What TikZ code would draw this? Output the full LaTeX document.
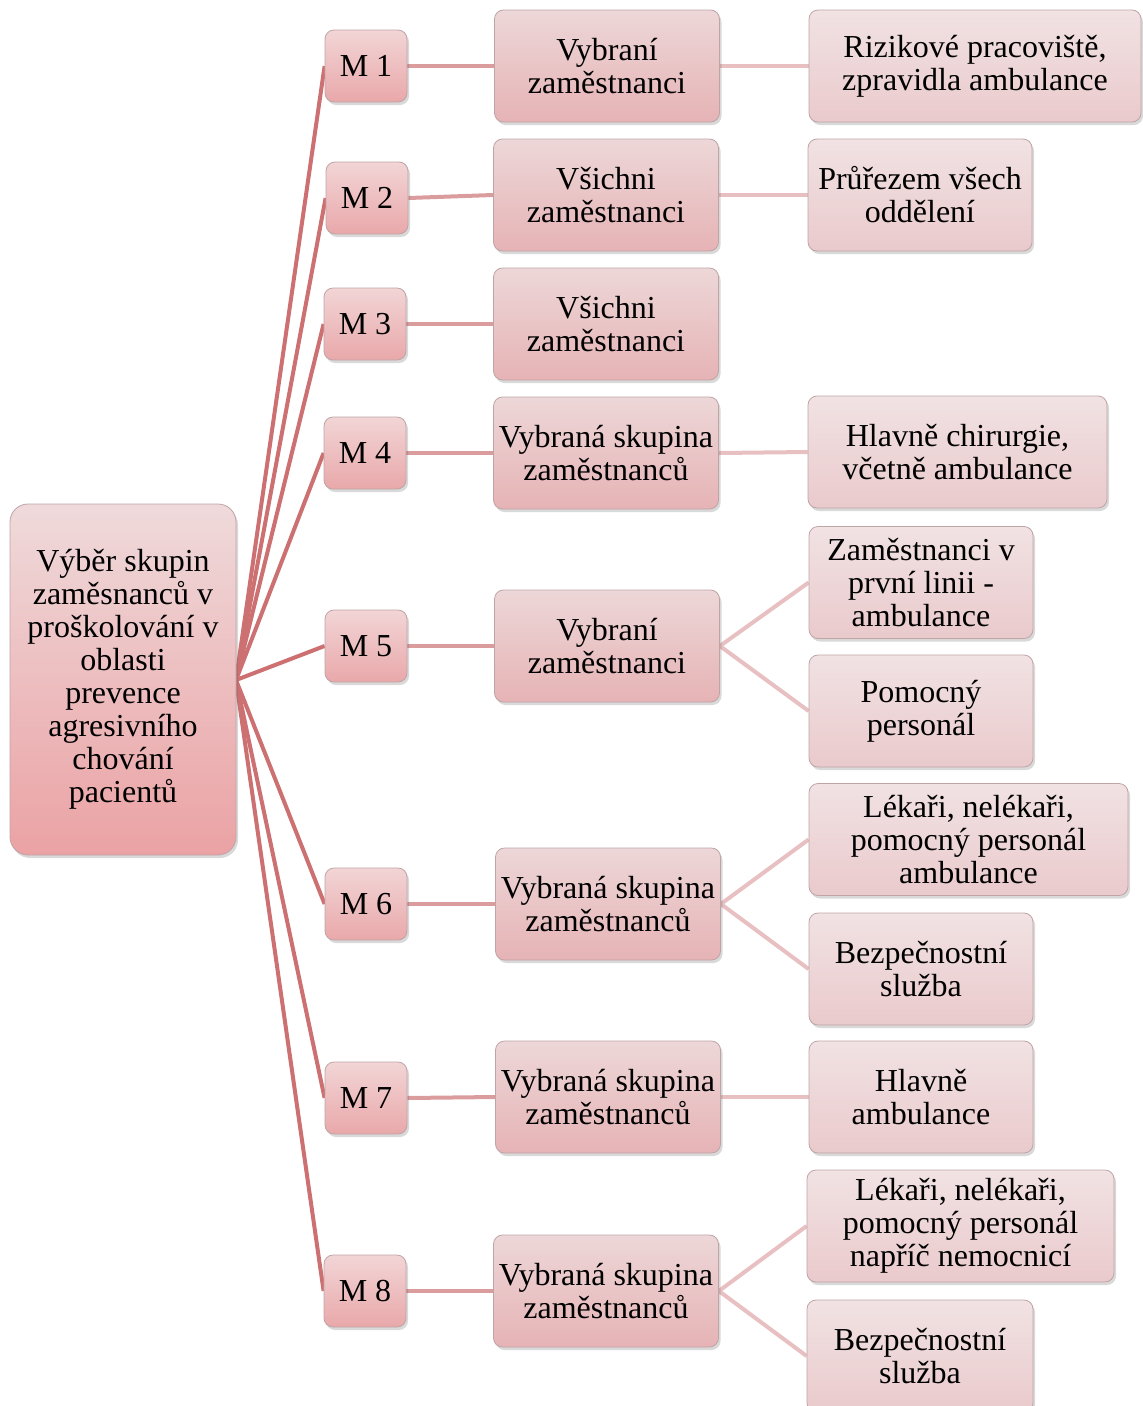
\documentclass[tikz,border=0pt]{standalone}
\usepackage{fontspec}
\setmainfont{Liberation Serif}
\usetikzlibrary{shadows,backgrounds}
\definecolor{rootTop}{HTML}{EFDADB}
\definecolor{rootBot}{HTML}{EBA2A4}
\definecolor{mTop}{HTML}{F2D5D6}
\definecolor{mBot}{HTML}{E9A8AA}
\definecolor{midTop}{HTML}{EDD7D8}
\definecolor{midBot}{HTML}{E6B3B5}
\definecolor{leafTop}{HTML}{F1E2E3}
\definecolor{leafBot}{HTML}{EACACC}
\definecolor{edgeA}{HTML}{CD7072}
\definecolor{edgeB}{HTML}{DB9C9E}
\definecolor{edgeC}{HTML}{E8C0C2}
\definecolor{frame}{HTML}{BFA4A6}
\tikzset{
  box/.style={draw=frame, line width=0.8pt, rounded corners=9pt, align=center,
    inner sep=0pt, font=\fontsize{32}{33}\selectfont,
    drop shadow={shadow xshift=2pt, shadow yshift=-3pt, opacity=0.25, fill=black!60}},
  rootbox/.style={box, top color=rootTop, bottom color=rootBot, rounded corners=18pt,
    minimum width=226pt, minimum height=351pt},
  mbox/.style={box, top color=mTop, bottom color=mBot, minimum width=82pt, minimum height=72pt},
  midbox/.style={box, top color=midTop, bottom color=midBot, minimum width=225pt, minimum height=112pt},
  leafbox/.style={box, top color=leafTop, bottom color=leafBot, minimum height=112pt},
  linkA/.style={edgeA, line width=4pt},
  linkB/.style={edgeB, line width=4pt},
  linkC/.style={edgeC, line width=4pt},
}
\begin{document}
\begin{tikzpicture}[x=1pt, y=-1pt]
\useasboundingbox (0,0) rectangle (1143,1406);

% root
\node[rootbox] (root) at (123,679.5) {Výběr skupin\\zaměsnanců v\\proškolování v\\oblasti\\prevence\\agresivního\\chování\\pacientů};
\coordinate (hub) at (236,680);

% first level
\node[mbox] (m1) at (366,66) {M 1};
\node[mbox] (m2) at (367,198) {M 2};
\node[mbox] (m3) at (365,324) {M 3};
\node[mbox] (m4) at (365,453) {M 4};
\node[mbox] (m5) at (366,646) {M 5};
\node[mbox] (m6) at (366,904) {M 6};
\node[mbox] (m7) at (366,1098) {M 7};
\node[mbox] (m8) at (365,1291) {M 8};

% second level
\node[midbox] (g1) at (607,66) {Vybraní\\zaměstnanci};
\node[midbox] (g2) at (606,195) {Všichni\\zaměstnanci};
\node[midbox] (g3) at (606,324) {Všichni\\zaměstnanci};
\node[midbox] (g4) at (606,453) {Vybraná skupina\\zaměstnanců};
\node[midbox] (g5) at (607,646) {Vybraní\\zaměstnanci};
\node[midbox] (g6) at (608,904) {Vybraná skupina\\zaměstnanců};
\node[midbox] (g7) at (608,1097) {Vybraná skupina\\zaměstnanců};
\node[midbox] (g8) at (606,1291) {Vybraná skupina\\zaměstnanců};

% third level
\node[leafbox, minimum width=332pt] (d1) at (975,66) {Rizikové pracoviště,\\zpravidla ambulance};
\node[leafbox, minimum width=224pt] (d2) at (920,195) {Průřezem všech\\oddělení};
\node[leafbox, minimum width=299pt] (d4) at (957.5,452) {Hlavně chirurgie,\\včetně ambulance};
\node[leafbox, minimum width=224pt] (d5a) at (921,582.5) {Zaměstnanci v\\první linii -\\ambulance};
\node[leafbox, minimum width=224pt] (d5b) at (921,711) {Pomocný\\personál};
\node[leafbox, minimum width=319pt] (d6a) at (968.5,839.5) {Lékaři, nelékaři,\\pomocný personál\\ambulance};
\node[leafbox, minimum width=224pt] (d6b) at (921,969) {Bezpečnostní\\služba};
\node[leafbox, minimum width=224pt] (d7) at (921,1097) {Hlavně\\ambulance};
\node[leafbox, minimum width=307pt] (d8a) at (960.5,1226) {Lékaři, nelékaři,\\pomocný personál\\napříč nemocnicí};
\node[leafbox, minimum width=226pt] (d8b) at (920,1356) {Bezpečnostní\\služba};

% connectors, kept behind the boxes
\begin{scope}[on background layer]
  \foreach \m in {m1,m2,m3,m4,m5,m6,m7,m8}
    \draw[linkA] (hub) -- (\m.west);
  \foreach \m/\g in {m1/g1,m2/g2,m3/g3,m4/g4,m5/g5,m6/g6,m7/g7,m8/g8}
    \draw[linkB] (\m.east) -- (\g.west);
  \foreach \g/\d in {g1/d1,g2/d2,g4/d4,g5/d5a,g5/d5b,g6/d6a,g6/d6b,g7/d7,g8/d8a,g8/d8b}
    \draw[linkC] (\g.east) -- (\d.west);
\end{scope}
\end{tikzpicture}
\end{document}
